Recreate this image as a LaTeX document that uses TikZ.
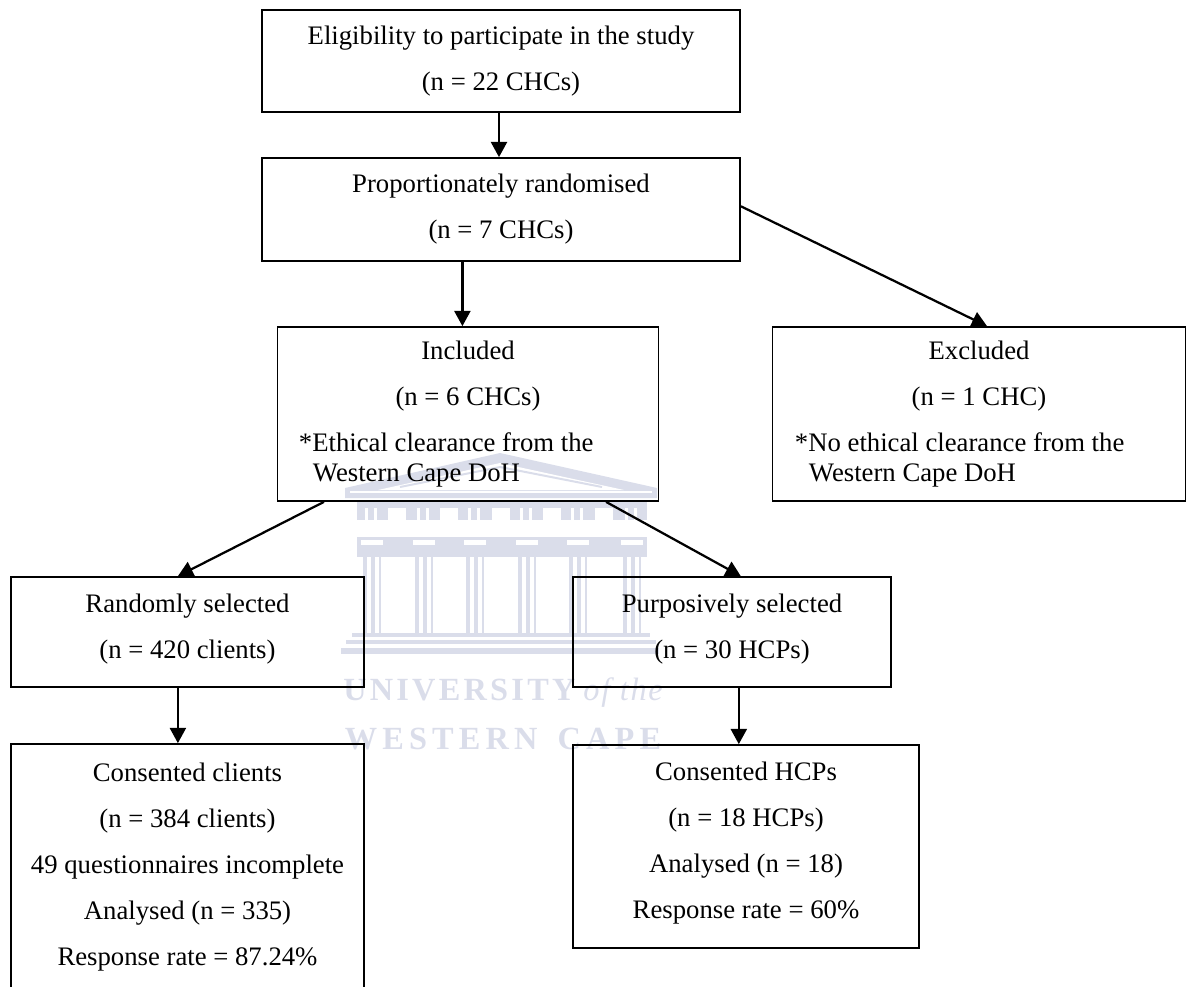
\documentclass[tikz,border=0pt]{standalone}
\usepackage{fontspec}
\setmainfont{Liberation Serif}
\usetikzlibrary{arrows.meta}
\definecolor{crest}{HTML}{DADDEA}
\begin{document}
\begin{tikzpicture}[x=0.025cm,y=-0.025cm,
	box/.style={draw=black,line width=1.2pt,align=center,inner sep=0pt,font=\fontsize{19}{32.7}\selectfont},
	flow/.style={-{Triangle[length=0.38cm,width=0.4cm]},line width=1.6pt,black},
	crestword/.style={text=crest,inner sep=0pt,font=\fontsize{23}{23}\selectfont\bfseries}]
	\clip (0,0) rectangle (1187,986);
	% crest behind the boxes
	\fill[crest] (345,498) -- (345,488) -- (500,453) -- (657,488) -- (657,498) -- cycle;
	\fill[white] (378,490) -- (500,463) -- (624,490) -- cycle;
	\draw[white,line width=0.8pt] (350,492) -- (652,492);
	\draw[crest,line width=1.4pt] (400,487) -- (500,467) -- (602,487);
	\fill[crest] (357,502) rectangle (647,520);
	\fill[crest] (357,537) rectangle (647,557);
	\foreach \mx in {388,440,492,543,595} {
		\fill[white] (\mx,508) rectangle +(18,12);
	}
	\foreach \cx in {372,424,475,527,578,632} {
		\fill[white] (\cx-11,540) rectangle +(22,5);
		\fill[crest] (\cx-9,557) rectangle (\cx-5,633);
		\fill[crest] (\cx-1,557) rectangle (\cx+3,633);
		\fill[crest] (\cx+7,557) rectangle (\cx+9,633);
		\fill[white] (\cx-7,508) rectangle +(3,12);
		\fill[white] (\cx+2,508) rectangle +(3,12);
	}
	\fill[crest] (352,633) rectangle (650,637);
	\fill[crest] (346,640) rectangle (656,644);
	\fill[crest] (341,648) rectangle (659,654);
	\node (uni) at (503,693) [crestword] {\addfontfeature{LetterSpace=10}UNIVERSITY\hspace{0.2cm}{\itshape\mdseries\addfontfeature{LetterSpace=5}of the}};
	\node (cape) at (503,739) [crestword] {\addfontfeature{LetterSpace=16}WESTERN\hspace{0.5cm}CAPE};
	% boxes
	\node (elig) at (501,61) [box,minimum width=11.95cm,minimum height=2.55cm] {Eligibility to participate in the study\\(n = 22 CHCs)};
	\node (prop) at (501,209.5) [box,minimum width=11.95cm,minimum height=2.575cm] {Proportionately randomised\\(n = 7 CHCs)};
	\node (incl) at (468,414) [box,minimum width=9.525cm,minimum height=4.35cm] {Included\\(n = 6 CHCs)\\\makebox[8.45cm][l]{*Ethical clearance from the}\\[-11.4pt]\makebox[8.45cm][l]{\hspace{0.35cm}Western Cape DoH}};
	\node (excl) at (979,414) [box,minimum width=10.325cm,minimum height=4.35cm] {Excluded\\(n = 1 CHC)\\\makebox[9.2cm][l]{*No ethical clearance from the}\\[-11.4pt]\makebox[9.2cm][l]{\hspace{0.35cm}Western Cape DoH}};
	\node (rand) at (187.5,632) [box,text depth=0.3cm,minimum width=8.825cm,minimum height=2.75cm] {Randomly selected\\(n = 420 clients)};
	\node (purp) at (732,632) [box,text depth=0.3cm,minimum width=7.95cm,minimum height=2.75cm] {Purposively selected\\(n = 30 HCPs)};
	\node (cons) at (187.5,888) [box,text depth=1.17cm,minimum width=8.825cm,minimum height=7.2cm] {Consented clients\\(n = 384 clients)\\49 questionnaires incomplete\\Analysed (n = 335)\\Response rate = 87.24\%};
	\node (chcp) at (746,846.5) [box,text depth=0.3cm,minimum width=8.65cm,minimum height=5.075cm] {Consented HCPs\\(n = 18 HCPs)\\Analysed (n = 18)\\Response rate = 60\%};
	% arrows
	\draw[flow] ([xshift=-0.05cm]elig.south) -- ([xshift=-0.05cm]prop.north);
	\draw[flow] ([xshift=-0.14cm]incl.north |- prop.south) -- ([xshift=-0.14cm]incl.north);
	\draw[flow] ([yshift=0.08cm]prop.east) -- ([xshift=0.2cm]excl.north);
	\draw[flow] ([xshift=-3.6cm]incl.south) -- ([xshift=-0.24cm]rand.north);
	\draw[flow] ([xshift=3.45cm]incl.south) -- ([xshift=0.22cm]purp.north);
	\draw[flow] ([xshift=-0.24cm]rand.south) -- ([xshift=-0.24cm]rand.south |- cons.north);
	\draw[flow] ([xshift=0.17cm]purp.south) -- ([xshift=0.17cm]purp.south |- chcp.north);
\end{tikzpicture}
\end{document}
